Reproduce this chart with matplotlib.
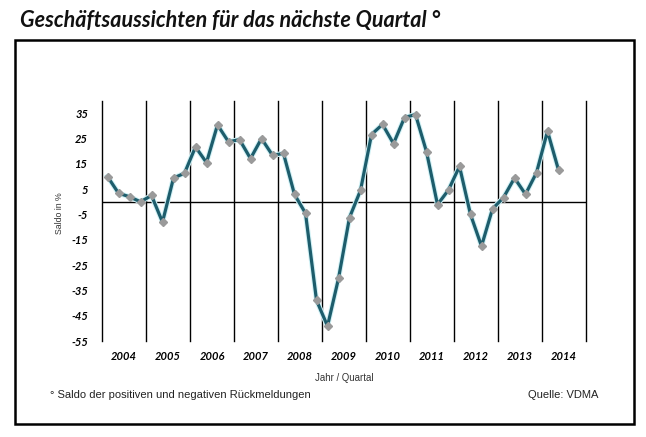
import matplotlib.pyplot as plt
import matplotlib.patheffects as pe
import numpy as np
from matplotlib.patches import Rectangle

# Saldo je Quartal, 2004 Q1 bis 2014 Q2
saldo = [10, 3.4, 2, 0, 2.5, -8, 9.4, 11.3,
         21.7, 15.5, 30.4, 23.7, 24.6, 17.1, 25, 18.4,
         19.1, 2.9, -4.5, -38.9, -49.1, -30.3, -6.2, 4.5,
         26.6, 30.6, 23, 33.3, 34.5, 19.8, -1.1, 4.7,
         14, -5, -17.5, -2.8, 1.7, 9.4, 3, 11.5,
         27.9, 12.6]
jahre = [str(j) for j in range(2004, 2015)]
y_ticks = [35, 25, 15, 5, -5, -15, -25, -35, -45, -55]

title = "Geschäftsaussichten für das nächste Quartal °"
fussnote = "° Saldo der positiven und negativen Rückmeldungen"
quelle = "Quelle: VDMA"

W, H = 646, 437
fig = plt.figure(figsize=(W / 100, H / 100), dpi=100)

# Rahmen
fig.patches.append(Rectangle((15 / W, 1 - 424 / H), (634 - 15) / W, (424 - 40) / H,
                             transform=fig.transFigure, fill=False,
                             edgecolor='black', linewidth=1.8))

fig.text(20 / W, 1 - 20 / H, title, family='Lato', weight='bold', style='italic',
         fontsize=15.5, va='center', ha='left', color='#111111')

ax = fig.add_axes([102 / W, 1 - 341 / H, (586 - 102) / W, 240.4 / H])
x = np.arange(len(saldo)) + 0.5
ax.plot(x, saldo, color='#1d5d6c', linewidth=2.3, zorder=3,
        path_effects=[pe.Stroke(linewidth=3.8, foreground='#d2f2f6'), pe.Normal()])
ax.plot(x, saldo, linestyle='none', marker='D', markersize=4.5,
        color='#9a9a9a', markeredgecolor='#9a9a9a', zorder=4)

ax.set_xlim(0, 44)
ax.set_ylim(-55, 40)
for k in range(12):
    ax.axvline(4 * k, color='black', linewidth=1.0, zorder=1, clip_on=False)
ax.axhline(0, color='black', linewidth=1.0, zorder=1)

for s in ax.spines.values():
    s.set_visible(False)

ax.set_yticks(y_ticks)
ax.set_yticklabels([str(v) for v in y_ticks], family='Lato', weight='bold',
                   style='italic', fontsize=8)
ax.set_xticks([4 * k + 2 for k in range(11)])
ax.set_xticklabels(jahre, family='Lato', weight='bold', style='italic', fontsize=8)
ax.tick_params(length=0)
ax.tick_params(axis='y', pad=10)
ax.tick_params(axis='x', pad=7)

fig.text(59 / W, 1 - 213 / H, "Saldo in %", rotation=90, fontsize=6.3,
         family='Liberation Sans', va='center', ha='center', color='#333333')
fig.text(344 / W, 1 - 378 / H, "Jahr / Quartal", fontsize=6.9,
         family='Liberation Sans', va='center', ha='center', color='#333333')
fig.text(50 / W, 1 - 395 / H, fussnote, fontsize=8,
         family='Liberation Sans', va='center', ha='left', color='#222222')
fig.text(598 / W, 1 - 395 / H, quelle, fontsize=8,
         family='Liberation Sans', va='center', ha='right', color='#222222')

fig.savefig('out.png', dpi=100)
